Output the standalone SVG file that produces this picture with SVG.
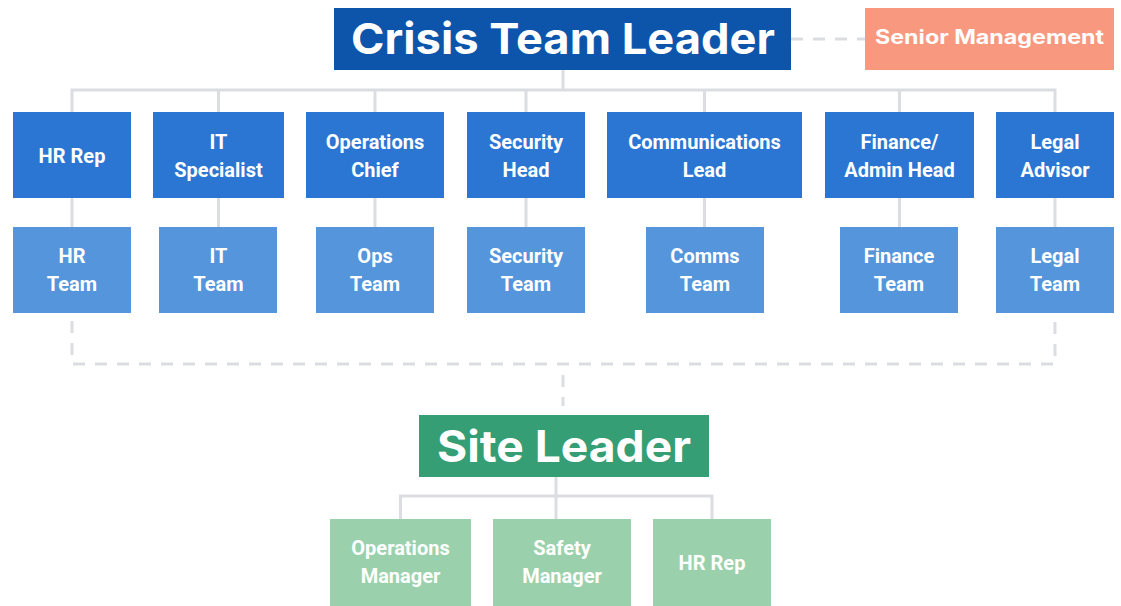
<svg xmlns="http://www.w3.org/2000/svg" width="1121" height="606" viewBox="0 0 1121 606">
<style>
.line{fill:none;stroke:#dcdde1;stroke-width:3}
.dash{fill:none;stroke:#dcdde1;stroke-width:3;stroke-dasharray:12 10}
.t{font-family:Roboto,"Liberation Sans",sans-serif;font-weight:700;font-size:20px;fill:#ffffff;text-anchor:middle}
.big{font-family:Inter,"Open Sans","Liberation Sans",sans-serif;font-weight:700;fill:#ffffff;text-anchor:middle}
.r1{fill:#2b76d2}
.r2{fill:#5595dc}
.g2{fill:#9ad1ac}
</style>
<rect width="1121" height="606" fill="#ffffff"/>
<g id="connectors">
<path class="dash" d="M791 39 H865"/>
<path class="line" d="M563 70 V90 M72 112 V90 H1055 V112 M218.5 90 V112 M375 90 V112 M526 90 V112 M704.5 90 V112 M899.5 90 V112"/>
<path class="line" d="M72 198 V227 M218.5 198 V227 M375 198 V227 M526 198 V227 M704.5 198 V227 M899.5 198 V227 M1055 198 V227"/>
<path class="dash" d="M72 321 V364 H1055 V321"/>
<path class="dash" d="M563 375 V406"/>
<path class="line" d="M556 477 V496 M400.5 519 V496 H712 V519 M556 496 V519"/>
</g>
<g id="crisis-team-leader">
<rect x="334" y="8" width="457" height="62" fill="#0d55ab"/>
<text class="big" x="563" y="54" font-size="43" textLength="424" lengthAdjust="spacingAndGlyphs">Crisis Team Leader</text>
</g>
<g id="senior-management">
<rect x="865" y="8" width="249" height="62" fill="#f8987e"/>
<text class="big" x="989.5" y="44" font-size="19.5" textLength="229" lengthAdjust="spacingAndGlyphs">Senior Management</text>
</g>
<g id="hr-rep">
<rect class="r1" x="13" y="112" width="118" height="86"/>
<text class="t" x="72" y="163">HR Rep</text>
</g>
<g id="it-specialist">
<rect class="r1" x="153" y="112" width="131" height="86"/>
<text class="t" x="218.5" y="149">IT</text>
<text class="t" x="218.5" y="177">Specialist</text>
</g>
<g id="operations-chief">
<rect class="r1" x="306" y="112" width="138" height="86"/>
<text class="t" x="375" y="149">Operations</text>
<text class="t" x="375" y="177">Chief</text>
</g>
<g id="security-head">
<rect class="r1" x="467" y="112" width="118" height="86"/>
<text class="t" x="526" y="149">Security</text>
<text class="t" x="526" y="177">Head</text>
</g>
<g id="communications-lead">
<rect class="r1" x="607" y="112" width="195" height="86"/>
<text class="t" x="704.5" y="149">Communications</text>
<text class="t" x="704.5" y="177">Lead</text>
</g>
<g id="finance-admin-head">
<rect class="r1" x="825" y="112" width="149" height="86"/>
<text class="t" x="899.5" y="149">Finance/</text>
<text class="t" x="899.5" y="177">Admin Head</text>
</g>
<g id="legal-advisor">
<rect class="r1" x="996" y="112" width="118" height="86"/>
<text class="t" x="1055" y="149">Legal</text>
<text class="t" x="1055" y="177">Advisor</text>
</g>
<g id="hr-team">
<rect class="r2" x="13" y="227" width="118" height="86"/>
<text class="t" x="72" y="263">HR</text>
<text class="t" x="72" y="291">Team</text>
</g>
<g id="it-team">
<rect class="r2" x="159" y="227" width="118" height="86"/>
<text class="t" x="218.5" y="263">IT</text>
<text class="t" x="218.5" y="291">Team</text>
</g>
<g id="ops-team">
<rect class="r2" x="316" y="227" width="118" height="86"/>
<text class="t" x="375" y="263">Ops</text>
<text class="t" x="375" y="291">Team</text>
</g>
<g id="security-team">
<rect class="r2" x="467" y="227" width="118" height="86"/>
<text class="t" x="526" y="263">Security</text>
<text class="t" x="526" y="291">Team</text>
</g>
<g id="comms-team">
<rect class="r2" x="646" y="227" width="118" height="86"/>
<text class="t" x="705" y="263">Comms</text>
<text class="t" x="705" y="291">Team</text>
</g>
<g id="finance-team">
<rect class="r2" x="840" y="227" width="118" height="86"/>
<text class="t" x="899" y="263">Finance</text>
<text class="t" x="899" y="291">Team</text>
</g>
<g id="legal-team">
<rect class="r2" x="996" y="227" width="118" height="86"/>
<text class="t" x="1055" y="263">Legal</text>
<text class="t" x="1055" y="291">Team</text>
</g>
<g id="site-leader">
<rect x="419" y="415" width="290" height="62" fill="#359e74"/>
<text class="big" x="564" y="462" font-size="44" textLength="254" lengthAdjust="spacingAndGlyphs">Site Leader</text>
</g>
<g id="operations-manager">
<rect class="g2" x="330" y="519" width="141" height="87"/>
<text class="t" x="400.5" y="555">Operations</text>
<text class="t" x="400.5" y="583">Manager</text>
</g>
<g id="safety-manager">
<rect class="g2" x="493" y="519" width="138" height="87"/>
<text class="t" x="562" y="555">Safety</text>
<text class="t" x="562" y="583">Manager</text>
</g>
<g id="site-hr-rep">
<rect class="g2" x="653" y="519" width="118" height="87"/>
<text class="t" x="712" y="570">HR Rep</text>
</g>
</svg>
